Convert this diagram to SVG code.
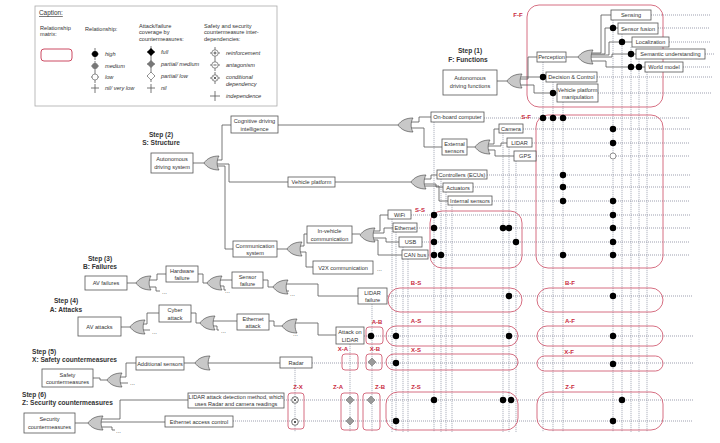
<svg xmlns="http://www.w3.org/2000/svg" width="720" height="443" viewBox="0 0 720 443">
<style>
text{font-family:"Liberation Sans",Arial,sans-serif;fill:#333}
.t{font-size:5.6px;text-anchor:middle}
.tl{font-size:5.6px}
.ci{font-size:5.6px;font-style:italic}
.st{font-size:6.6px;font-weight:bold;fill:#333}
.stm{font-size:6.6px;font-weight:bold;fill:#333;text-anchor:middle}
.box{fill:#fff;stroke:#555;stroke-width:0.8}
.c{fill:none;stroke:#555;stroke-width:0.8}
.h{fill:none;stroke:#5a6078;stroke-width:0.6;stroke-dasharray:1 1}
.v{fill:none;stroke:#7a7f95;stroke-width:0.6;stroke-dasharray:1.2 0.8}
.m{fill:none;stroke:#cc4a62;stroke-width:0.8}
.ml{font-size:6px;font-weight:bold;fill:#c8283c;text-anchor:middle}
.d{fill:#000}
.dm{fill:#9a9a9a;stroke:#666;stroke-width:0.5}
.dots{font-size:6px;fill:#333}
</style>
<defs>
<path id="gate" d="M0,0 C3,-4.5 8,-7 15,-7 C12.5,-3 12.5,3 15,7 C8,7 3,4.5 0,0 Z" fill="#c8c8c8" stroke="#555" stroke-width="0.7"/>
</defs>

<!-- Caption -->
<g id="caption">
<rect x="35" y="6" width="242" height="100" fill="#fff" stroke="#aaa" stroke-width="0.8"/>
<text x="39" y="15" style="font-size:6.4px;text-decoration:underline">Caption:</text>
<text x="40" y="30" class="tl">Relationship</text>
<text x="40" y="36" class="tl">matrix:</text>
<rect x="41" y="49" width="31" height="12" rx="3" fill="none" stroke="#cc4a62" stroke-width="1"/>
<text x="85" y="31" class="tl">Relationship:</text>
<path d="M95,48V60M91,54H99M95,61V72M91,66H99M95,72V83M91,77H99M95,84V93M91,88H99" class="c" stroke-width="0.6"/>
<circle cx="95" cy="54" r="3" fill="#000"/>
<circle cx="95" cy="66" r="3" fill="#777"/>
<circle cx="95" cy="77" r="3" fill="#fff" stroke="#555" stroke-width="0.6"/>
<text x="105" y="56" class="ci">high</text>
<text x="105" y="68" class="ci">medium</text>
<text x="105" y="79" class="ci">low</text>
<text x="105" y="90" class="ci">nil/ very low</text>
<text x="139" y="28" class="tl">Attack/failure</text>
<text x="139" y="34" class="tl">coverage by</text>
<text x="139" y="41" class="tl">countermeasures:</text>
<path d="M151,46V58M147,52H155M151,58V70M147,64H155M151,70V82M147,76H155M151,84V93M147,88H155" class="c" stroke-width="0.6"/>
<path d="M151,48L155,52L151,56L147,52Z" fill="#000"/>
<path d="M151,60L155,64L151,68L147,64Z" fill="#777"/>
<path d="M151,72L155,76L151,80L147,76Z" fill="#fff" stroke="#555" stroke-width="0.6"/>
<text x="161" y="54" class="ci">full</text>
<text x="161" y="66" class="ci">partial/ medium</text>
<text x="161" y="78" class="ci">partial/ low</text>
<text x="161" y="90" class="ci">nil</text>
<text x="204" y="28" class="tl">Safety and security</text>
<text x="204" y="34" class="tl">countermeasure inter-</text>
<text x="204" y="41" class="tl">dependencies:</text>
<path d="M215,47V59M210,53H220M215,59V71M210,65H220M215,72V84M210,78H220M215,91V101M210,96H220" class="c" stroke-width="0.6"/>
<circle cx="215" cy="53" r="3.2" fill="#fff" stroke="#444" stroke-width="0.6"/>
<path d="M213.5,53H216.5M215,51.5V54.5" stroke="#222" stroke-width="0.7"/>
<circle cx="215" cy="65" r="3.2" fill="#fff" stroke="#444" stroke-width="0.6"/>
<path d="M213.5,65H216.5" stroke="#222" stroke-width="0.7"/>
<circle cx="215" cy="78" r="3.2" fill="#fff" stroke="#444" stroke-width="0.6"/>
<path d="M213.6,76.6L216.4,79.4M216.4,76.6L213.6,79.4" stroke="#222" stroke-width="0.7"/>
<text x="226" y="55" class="ci">reinforcement</text>
<text x="226" y="67" class="ci">antagonism</text>
<text x="226" y="79" class="ci">conditional</text>
<text x="226" y="86" class="ci">dependency</text>
<text x="226" y="98" class="ci">independence</text>
</g>

<!-- Grid lines -->
<g id="grid">
<!-- F rows -->
<path class="h" d="M651,15H710M658,28H710M669,42H710M705,54H715M683,67H710M597,77H712M598,93H712"/>
<!-- S rows -->
<path class="h" d="M484,118H690M523,129H690M532,143H690M536,156H690M487,175H690M473,187H690M492,201H690M411,215H690M417,228H690M422,242H690M428,255H690"/>
<!-- B/A/X/Z rows -->
<path class="h" d="M387,296H693M364,336H693M312,363H693M284,400H693M233,421H693"/>
<!-- F columns -->
<path class="v" d="M543,62V432M553,82V432M563,102V432M613,20V432M622,34V432M631,47V432M639,59V432M647,72V432"/>
<!-- S columns -->
<path class="v" d="M434,122V432M441,179V432M446,192V432M452,205V432M503,133V432M509,147V432M516,161V432M392,219V432M396,232V432M403,247V432M408,259V432"/>
<!-- other columns -->
<path class="v" d="M372,304V432M350,344V432M295,368V432"/>
</g>

<!-- Matrices -->
<g id="matrices">
<rect class="m" x="527" y="5" width="136" height="102" rx="12"/>
<text class="ml" x="518" y="17">F-F</text>
<rect class="m" x="536" y="115" width="127" height="153" rx="12"/>
<text class="ml" x="526" y="119">S-F</text>
<rect class="m" x="430" y="211" width="92" height="57" rx="12"/>
<text class="ml" x="420" y="212">S-S</text>
<rect class="m" x="388" y="288" width="134" height="24" rx="12"/>
<text class="ml" x="416" y="285">B-S</text>
<rect class="m" x="537" y="288" width="126" height="24" rx="12"/>
<text class="ml" x="570" y="285">B-F</text>
<rect class="m" x="386" y="326" width="132" height="20" rx="10"/>
<text class="ml" x="416" y="323">A-S</text>
<rect class="m" x="537" y="326" width="126" height="20" rx="10"/>
<text class="ml" x="570" y="323">A-F</text>
<rect class="m" x="386" y="354" width="132" height="16" rx="8"/>
<text class="ml" x="416" y="352">X-S</text>
<rect class="m" x="537" y="356" width="126" height="15" rx="7.5"/>
<text class="ml" x="569" y="354">X-F</text>
<rect class="m" x="386" y="392" width="132" height="38" rx="12"/>
<text class="ml" x="416" y="389">Z-S</text>
<rect class="m" x="537" y="392" width="126" height="38" rx="12"/>
<text class="ml" x="570" y="389">Z-F</text>
<rect class="m" x="366" y="327" width="17" height="17" rx="3"/>
<text class="ml" x="377" y="324">A-B</text>
<rect class="m" x="342" y="354" width="16" height="16" rx="3"/>
<text class="ml" x="343" y="351">X-A</text>
<rect class="m" x="366" y="354" width="16" height="16" rx="3"/>
<text class="ml" x="375" y="351">X-B</text>
<rect class="m" x="288" y="393" width="16" height="36" rx="3"/>
<text class="ml" x="298" y="389">Z-X</text>
<rect class="m" x="341" y="393" width="17" height="37" rx="3"/>
<text class="ml" x="338" y="389">Z-A</text>
<rect class="m" x="363" y="393" width="17" height="37" rx="3"/>
<text class="ml" x="380" y="389">Z-B</text>
</g>

<!-- Connectors -->
<g id="connectors">
<path class="c" d="M497,81H507M520,77H546M520,79H528V57H537M520,85H534V93H557"/>
<path class="c" d="M566,57H578M591,53H601V15H611M591,54H605V28H618M591,55H609V42H632M591,57H612V54H636M591,61H606V67H645"/>
<path class="c" d="M193,163H204M217,160H222V125H231M217,164H229V182H288M217,166H225V249H233"/>
<path class="c" d="M278,125H398M411,122H419V117H431M411,128H424V147H442"/>
<path class="c" d="M467,147H475M488,144H494V129H499M488,146H501V143H507M488,150H495V156H514"/>
<path class="c" d="M335,182H411M424,179H431V175H437M424,184H436V187H443M424,186H439V201H448"/>
<path class="c" d="M277,249H287M300,246H304V234H307M300,252H306V267H313"/>
<path class="c" d="M352,234H360M373,231H380V215H388M373,233H384V228H393M373,238H386V242H399M373,240H378V255H402"/>
<path class="c" d="M127,283H136M149,280H157V274H166M149,287H156V291H160M198,274H203V283H207M220,280H232M220,286H224V290H226M263,280H268V287H273M286,284H318V296H358M286,291H289"/>
<path class="c" d="M121,327H130M143,324H147V313H159M143,330H150M191,313H196V323H200M213,321H237M213,326H217V330H219M269,321H274V326H282M295,323H318V335H336M295,330H292"/>
<path class="c" d="M93,378H100V380H107M120,377H126V363H136M120,383H128M184,363H195M208,363H280"/>
<path class="c" d="M75,423H88M101,419H120V400H188M101,422H165M101,427H112V430H115"/>
<text class="dots" x="162" y="294">...</text>
<text class="dots" x="225" y="293">...</text>
<text class="dots" x="290" y="296">...</text>
<text class="dots" x="152" y="334">...</text>
<text class="dots" x="221" y="333">...</text>
<text class="dots" x="293" y="336">...</text>
<text class="dots" x="130" y="385">...</text>
<text class="dots" x="116" y="433">...</text>
<text class="dots" x="377" y="271">...</text>
</g>

<!-- Gates -->
<g id="gates">
<use href="#gate" x="507" y="81"/>
<use href="#gate" x="578" y="57"/>
<use href="#gate" x="204" y="163"/>
<use href="#gate" x="398" y="125"/>
<use href="#gate" x="475" y="147"/>
<use href="#gate" x="411" y="182"/>
<use href="#gate" x="287" y="249"/>
<use href="#gate" x="360" y="235"/>
<use href="#gate" x="136" y="283"/>
<use href="#gate" x="207" y="283"/>
<use href="#gate" x="273" y="287"/>
<use href="#gate" x="130" y="327"/>
<use href="#gate" x="200" y="323"/>
<use href="#gate" x="282" y="326"/>
<use href="#gate" x="107" y="380"/>
<use href="#gate" x="195" y="363"/>
<use href="#gate" x="88" y="423"/>
</g>

<!-- Step labels -->
<g id="steps">
<text class="stm" x="470" y="53">Step (1)</text>
<text class="stm" x="468" y="62">F: Functions</text>
<text class="stm" x="161" y="137">Step (2)</text>
<text class="stm" x="161" y="145">S: Structure</text>
<text class="stm" x="100" y="261">Step (3)</text>
<text class="stm" x="100" y="269">B: Failures</text>
<text class="stm" x="66" y="303">Step (4)</text>
<text class="stm" x="66" y="312">A: Attacks</text>
<text class="st" x="32" y="354">Step (5)</text>
<text class="st" x="32" y="362">X: Safety countermeasures</text>
<text class="st" x="22" y="397">Step (6)</text>
<text class="st" x="22" y="405">Z: Security countermeasures</text>
</g>

<!-- Function nodes -->
<g id="n-adf"><rect class="box" x="443" y="70" width="54" height="25"/><text class="t" x="470" y="80">Autonomous</text><text class="t" x="470" y="88">driving functions</text></g>
<g id="n-perception"><rect class="box" x="537" y="52" width="29" height="10"/><text class="t" x="551.5" y="59">Perception</text></g>
<g id="n-sensing"><rect class="box" x="611" y="10" width="40" height="10"/><text class="t" x="631" y="17">Sensing</text></g>
<g id="n-fusion"><rect class="box" x="618" y="23" width="40" height="11"/><text class="t" x="638" y="30.5">Sensor fusion</text></g>
<g id="n-local"><rect class="box" x="632" y="37" width="37" height="10"/><text class="t" x="650.5" y="44">Localization</text></g>
<g id="n-semantic"><rect class="box" x="636" y="49" width="69" height="10"/><text class="t" x="670.5" y="56">Semantic understanding</text></g>
<g id="n-world"><rect class="box" x="645" y="62" width="38" height="10"/><text class="t" x="664" y="69">World model</text></g>
<g id="n-decision"><rect class="box" x="546" y="72" width="51" height="10"/><text class="t" x="571.5" y="79">Decision &amp; Control</text></g>
<g id="n-vpm"><rect class="box" x="557" y="84" width="41" height="18"/><text class="t" x="577.5" y="91.5">Vehicle platform</text><text class="t" x="577.5" y="99">manipulation</text></g>

<!-- Structure nodes -->
<g id="n-ads"><rect class="box" x="151" y="153" width="42" height="20"/><text class="t" x="172" y="161">Autonomous</text><text class="t" x="172" y="169">driving system</text></g>
<g id="n-cog"><rect class="box" x="231" y="116" width="47" height="17"/><text class="t" x="254.5" y="123">Cognitive driving</text><text class="t" x="254.5" y="130.5">intelligence</text></g>
<g id="n-vp"><rect class="box" x="288" y="177" width="47" height="10"/><text class="t" x="311.5" y="184">Vehicle platform</text></g>
<g id="n-comm"><rect class="box" x="233" y="241" width="44" height="16"/><text class="t" x="255" y="248">Communication</text><text class="t" x="255" y="255">system</text></g>
<g id="n-obc"><rect class="box" x="431" y="112" width="53" height="10"/><text class="t" x="457.5" y="119">On-board computer</text></g>
<g id="n-ext"><rect class="box" x="442" y="139" width="25" height="16"/><text class="t" x="454.5" y="145.5">External</text><text class="t" x="454.5" y="152.5">sensors</text></g>
<g id="n-camera"><rect class="box" x="499" y="124" width="24" height="9"/><text class="t" x="511" y="130.5">Camera</text></g>
<g id="n-lidar"><rect class="box" x="507" y="138" width="25" height="9"/><text class="t" x="519.5" y="144.5">LIDAR</text></g>
<g id="n-gps"><rect class="box" x="514" y="151" width="22" height="10"/><text class="t" x="525" y="158">GPS</text></g>
<g id="n-ecu"><rect class="box" x="437" y="170" width="50" height="9"/><text class="t" x="462" y="176.5">Controllers (ECUs)</text></g>
<g id="n-act"><rect class="box" x="443" y="183" width="30" height="9"/><text class="t" x="458" y="189.5">Actuators</text></g>
<g id="n-int"><rect class="box" x="448" y="196" width="44" height="9"/><text class="t" x="470" y="202.5">Internal sensors</text></g>
<g id="n-invc"><rect class="box" x="307" y="226" width="45" height="17"/><text class="t" x="329.5" y="233">In-vehicle</text><text class="t" x="329.5" y="240.5">communication</text></g>
<g id="n-v2x"><rect class="box" x="313" y="261" width="60" height="13"/><text class="t" x="343" y="269.5">V2X communication</text></g>
<g id="n-wifi"><rect class="box" x="388" y="210" width="23" height="9"/><text class="t" x="399.5" y="216.5">WiFi</text></g>
<g id="n-eth"><rect class="box" x="393" y="223" width="24" height="9"/><text class="t" x="405" y="229.5">Ethernet</text></g>
<g id="n-usb"><rect class="box" x="399" y="237" width="23" height="10"/><text class="t" x="410.5" y="244">USB</text></g>
<g id="n-can"><rect class="box" x="402" y="250" width="26" height="9"/><text class="t" x="415" y="256.5">CAN bus</text></g>

<!-- Failure nodes -->
<g id="n-avf"><rect class="box" x="85" y="276" width="42" height="14"/><text class="t" x="106" y="285">AV failures</text></g>
<g id="n-hw"><rect class="box" x="166" y="266" width="32" height="16"/><text class="t" x="182" y="273">Hardware</text><text class="t" x="182" y="280">failure</text></g>
<g id="n-sf"><rect class="box" x="232" y="272" width="31" height="16"/><text class="t" x="247.5" y="279">Sensor</text><text class="t" x="247.5" y="286">failure</text></g>
<g id="n-lf"><rect class="box" x="358" y="288" width="29" height="16"/><text class="t" x="372.5" y="295">LIDAR</text><text class="t" x="372.5" y="302">failure</text></g>

<!-- Attack nodes -->
<g id="n-ava"><rect class="box" x="78" y="317" width="43" height="19"/><text class="t" x="99.5" y="328.5">AV attacks</text></g>
<g id="n-cyber"><rect class="box" x="159" y="305" width="32" height="17"/><text class="t" x="175" y="312">Cyber</text><text class="t" x="175" y="319.5">attack</text></g>
<g id="n-etha"><rect class="box" x="237" y="314" width="32" height="16"/><text class="t" x="253" y="321">Ethernet</text><text class="t" x="253" y="328">attack</text></g>
<g id="n-aol"><rect class="box" x="336" y="327" width="28" height="17"/><text class="t" x="350" y="334">Attack on</text><text class="t" x="350" y="341.5">LIDAR</text></g>

<!-- Safety nodes -->
<g id="n-safety"><rect class="box" x="42" y="369" width="51" height="18"/><text class="t" x="67.5" y="376.5">Safety</text><text class="t" x="67.5" y="384">countermeasures</text></g>
<g id="n-addsens"><rect class="box" x="136" y="357" width="48" height="13"/><text class="t" x="160" y="365.5">Additional sensors</text></g>
<g id="n-radar"><rect class="box" x="280" y="357" width="32" height="11"/><text class="t" x="296" y="364.5">Radar</text></g>

<!-- Security nodes -->
<g id="n-security"><rect class="box" x="24" y="413" width="51" height="20"/><text class="t" x="49.5" y="421">Security</text><text class="t" x="49.5" y="429">countermeasures</text></g>
<g id="n-lad"><rect class="box" x="188" y="393" width="96" height="15"/><text class="t" x="236" y="399">LIDAR attack detection method, which</text><text class="t" x="236" y="406">uses Radar and camera readings</text></g>
<g id="n-eac"><rect class="box" x="165" y="416" width="68" height="11"/><text class="t" x="199" y="423.5">Ethernet access control</text></g>

<!-- Matrix entries -->
<g id="entries">
<!-- F-F -->
<circle class="d" cx="613" cy="28" r="3.2"/><circle class="d" cx="622" cy="42" r="3.2"/><circle class="d" cx="631" cy="54" r="3.2"/>
<circle class="d" cx="631" cy="67" r="3.2"/><circle class="d" cx="639" cy="67" r="3.2"/><circle class="d" cx="543" cy="77" r="3.2"/><circle class="d" cx="553" cy="93" r="3.2"/>
<!-- S-F -->
<circle class="d" cx="543" cy="118" r="3.2"/><circle class="d" cx="553" cy="118" r="3.2"/><circle class="d" cx="563" cy="118" r="3.2"/>
<circle class="d" cx="613" cy="129" r="3.2"/><circle class="d" cx="613" cy="143" r="3.2"/>
<circle cx="613" cy="156" r="3" fill="#fff" stroke="#777" stroke-width="0.8"/>
<circle class="d" cx="563" cy="175" r="3.2"/><circle class="d" cx="563" cy="187" r="3.2"/><circle class="d" cx="563" cy="201" r="3.2"/><circle class="d" cx="613" cy="201" r="3.2"/>
<circle class="d" cx="613" cy="215" r="3.2"/><circle class="d" cx="613" cy="228" r="3.2"/><circle class="d" cx="613" cy="242" r="3.2"/>
<circle class="d" cx="563" cy="255" r="3.2"/><circle class="d" cx="613" cy="255" r="3.2"/>
<!-- S-S -->
<circle class="d" cx="434" cy="215" r="3.2"/><circle class="d" cx="434" cy="228" r="3.2"/><circle class="d" cx="503" cy="228" r="3.2"/><circle class="d" cx="509" cy="228" r="3.2"/>
<circle class="d" cx="434" cy="242" r="3.2"/><circle class="d" cx="516" cy="242" r="3.2"/><circle class="d" cx="434" cy="255" r="3.2"/><circle class="d" cx="441" cy="255" r="3.2"/>
<!-- B -->
<circle class="d" cx="509" cy="296" r="3.2"/><circle class="d" cx="613" cy="296" r="3.2"/>
<!-- A -->
<circle class="d" cx="371" cy="336" r="3.2"/><circle class="d" cx="396" cy="336" r="3.2"/><circle class="d" cx="509" cy="336" r="3.2"/><circle class="d" cx="613" cy="336" r="3.2"/>
<!-- X -->
<path class="dm" d="M372,358L376,362L372,366L368,362Z"/>
<circle class="d" cx="396" cy="363" r="3.2"/><circle class="d" cx="613" cy="364" r="3.2"/>
<!-- Z -->
<circle cx="295" cy="400" r="3.3" fill="#fff" stroke="#333" stroke-width="0.7"/>
<path d="M293.6,398.6L296.4,401.4M296.4,398.6L293.6,401.4" stroke="#222" stroke-width="0.7"/>
<circle cx="295" cy="422" r="3.3" fill="#fff" stroke="#333" stroke-width="0.7"/>
<circle cx="295" cy="422" r="1" fill="#222"/>
<path class="dm" d="M350,396L354,400L350,404L346,400Z"/>
<path class="dm" d="M350,417L354,421L350,425L346,421Z"/>
<path class="dm" d="M371,396L375,400L371,404L367,400Z"/>
<circle class="d" cx="434" cy="400" r="3.2"/><circle class="d" cx="503" cy="400" r="3.2"/><circle class="d" cx="511" cy="400" r="3.2"/><circle class="d" cx="396" cy="421" r="3.2"/>
<circle class="d" cx="622" cy="400" r="3.2"/><circle class="d" cx="613" cy="421" r="3.2"/>
</g>
</svg>
